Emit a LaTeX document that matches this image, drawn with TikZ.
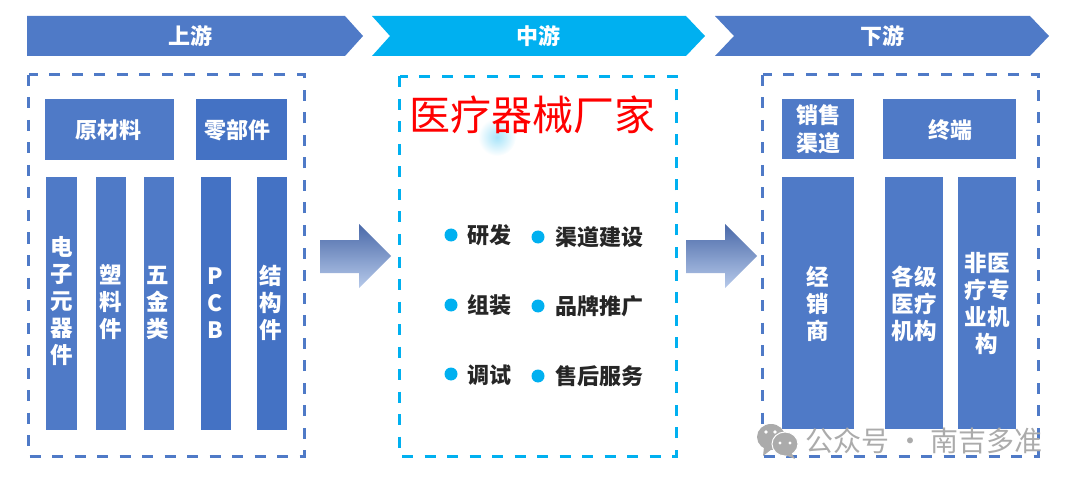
\documentclass[tikz,border=0pt]{standalone}
\usepackage{fontspec}
\setmainfont{Noto Sans CJK SC}
\usetikzlibrary{shadings}
\definecolor{bandblue}{HTML}{4F7AC7}
\definecolor{partblue}{HTML}{4472C4}
\definecolor{skyblue}{HTML}{00B0F0}
\definecolor{wmgray}{HTML}{ABABAB}
\definecolor{arrowtop}{HTML}{4A69A9}
\definecolor{arrowbottom}{HTML}{B7CAEA}
\tikzset{
  x=1pt,y=-1pt,
  bluebox/.style={fill=bandblue,draw=none,inner sep=0pt,text=white,font=\fontsize{22}{27}\selectfont\bfseries,align=center,anchor=north west},
  partbox/.style={bluebox,fill=partblue},
  coltext/.style={text=white,font=\fontsize{22.5}{27}\selectfont\bfseries,align=center,inner sep=0pt},
  bannertext/.style={text=white,font=\fontsize{22}{24}\selectfont\bfseries},
  dashbox/.style={line width=3pt,dash pattern=on 11pt off 11.5pt},
  dot/.style={circle,fill=skyblue,draw=none,minimum size=13pt,inner sep=0pt},
  bullettext/.style={text=black!85,font=\fontsize{22}{24}\selectfont\bfseries,anchor=west,inner sep=0pt},
  flowarrow/.style={top color=arrowtop,bottom color=arrowbottom,draw=none},
  wmbubble/.style={fill=wmgray,draw=white,line width=1pt},
}
\begin{document}
\begin{tikzpicture}
\useasboundingbox (0,0) rectangle (1080,484);
% banners
\fill[bandblue] (27,16) -- (345,16) -- (363,36) -- (345,56) -- (27,56) -- cycle;
\fill[skyblue] (372,16) -- (686,16) -- (705,36) -- (686,56) -- (372,56) -- (390,36) -- cycle;
\fill[bandblue] (715,16) -- (1030,16) -- (1049,36) -- (1030,56) -- (715,56) -- (734,36) -- cycle;
\node[bannertext] (up) at (190,35.5) {上游};
\node[bannertext] (mid) at (538,35.5) {中游};
\node[bannertext] (down) at (882,35.5) {下游};
% dashed frames
\draw[dashbox,draw=bandblue] (28.5,75) rectangle (304,456.5);
\draw[dashbox,draw=skyblue] (399.5,76.5) rectangle (676,456.5);
\draw[dashbox,draw=bandblue] (762.5,75) rectangle (1038,456.5);
% upstream
\node[bluebox,minimum width=129pt,minimum height=61pt] (raw) at (45,99) {};
\node[bannertext] (rawt) at (108,130) {原材料};
\node[partbox,minimum width=91pt,minimum height=61pt] (parts) at (196,99) {};
\node[bannertext] (partst) at (237,130) {零部件};
\node[bluebox,minimum width=31pt,minimum height=253pt] (c1) at (46,177) {};
\node[bluebox,minimum width=30pt,minimum height=253pt] (c2) at (96,177) {};
\node[bluebox,minimum width=30pt,minimum height=253pt] (c3) at (144,177) {};
\node[partbox,minimum width=30pt,minimum height=253pt] (c4) at (201,177) {};
\node[partbox,minimum width=30pt,minimum height=253pt] (c5) at (257,177) {};
\node[coltext] (t1) at (61.5,301) {电\\子\\元\\器\\件};
\node[coltext] (t2) at (111,302) {塑\\料\\件};
\node[coltext] (t3) at (158,303) {五\\金\\类};
\node[coltext] (t4) at (215,303) {P\\C\\B};
\node[coltext] (t5) at (271,303) {结\\构\\件};
% arrows
\path[flowarrow] (320,240) -- (359,240) -- (359,224) -- (391,256) -- (359,288) -- (359,273) -- (320,273) -- cycle;
\path[flowarrow] (686,240) -- (725,240) -- (725,224) -- (757,256) -- (725,288) -- (725,273) -- (686,273) -- cycle;
% smudge
\shade[inner color=skyblue!35,outer color=white] (497,137) circle (19);
% midstream
\node[text=red,font=\fontsize{41}{44}\selectfont,inner sep=0pt] (maker) at (532,115) {医疗器械厂家};
\node[dot] (d1) at (451,235) {};
\node[dot] (d2) at (538,237) {};
\node[dot] (d3) at (451,305) {};
\node[dot] (d4) at (538,306) {};
\node[dot] (d5) at (451,374) {};
\node[dot] (d6) at (538,376) {};
\node[bullettext] (b1) at (467,235) {研发};
\node[bullettext] (b2) at (555,237) {渠道建设};
\node[bullettext] (b3) at (467,305) {组装};
\node[bullettext] (b4) at (555,306) {品牌推广};
\node[bullettext] (b5) at (467,375) {调试};
\node[bullettext] (b6) at (555,376.5) {售后服务};
% downstream
\node[bluebox,minimum width=72pt,minimum height=60pt,font=\fontsize{22}{28}\selectfont\bfseries] (sales) at (782,99) {销售\\渠道};
\node[bluebox,minimum width=133pt,minimum height=60pt] (term) at (883,99) {};
\node[bannertext] (termt) at (950,130) {终端};
\node[bluebox,minimum width=72pt,minimum height=252pt] (r1) at (782,177) {};
\node[bluebox,minimum width=58pt,minimum height=252pt] (r2) at (885,177) {};
\node[bluebox,minimum width=58pt,minimum height=252pt] (r3) at (958,177) {};
\node[coltext] (rt1) at (818,304) {经\\销\\商};
\node[coltext] (rt2) at (914,304) {各级\\医疗\\机构};
\node[coltext] (rt3) at (987,303) {非医\\疗专\\业机\\构};
% watermark
\fill[wmgray] (771,437) ellipse (14 and 13);
\fill[wmgray] (764,447) -- (763,456) -- (772,449) -- cycle;
\fill[wmbubble] (785,444) ellipse (13 and 12);
\fill[wmgray] (791,452) -- (795,459) -- (785,455) -- cycle;
\fill[white] (766,432) circle (1.8) (775,432) circle (1.8) (780,443) circle (1.6) (790,443) circle (1.6);
\node[text=wmgray,font=\fontsize{28}{30}\selectfont,inner sep=0pt] (wm) at (924,441) {公众号 · 南吉多准};
\end{tikzpicture}
\end{document}
